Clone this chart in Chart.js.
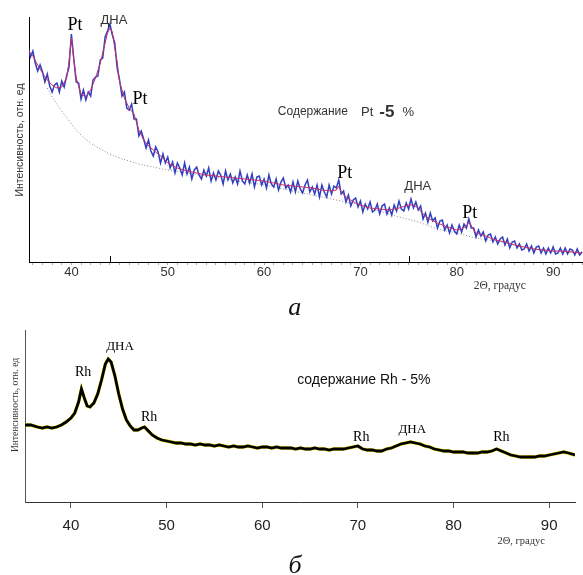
<!DOCTYPE html>
<html><head><meta charset="utf-8">
<script src="https://cdn.jsdelivr.net/npm/chart.js@4/dist/chart.umd.min.js"></script>
<style>
html,body{margin:0;padding:0;background:#fff;width:583px;height:575px;overflow:hidden}
canvas{position:absolute;left:0}
#ca{top:0}
#cb{top:320px}
</style></head><body>
<canvas id="ca" width="583" height="320"></canvas>
<canvas id="cb" width="583" height="255"></canvas>
<script>
// ---------- DATA ----------
const xTickLabels = [40, 50, 60, 70, 80, 90];

// Panel a: Pt - 5 %  (raw scan, blue)
const ptTheta = [35.5,35.75,
36,36.25,36.5,36.75, 37,37.25,37.5,37.75, 38,38.25,38.5,38.75, 39,39.25,39.5,39.75,
40,40.25,40.5,40.75, 41,41.25,41.5,41.75, 42,42.25,42.5,42.75, 43,43.25,43.5,43.75,
44,44.25,44.5,44.75, 45,45.25,45.5,45.75, 46,46.25,46.5,46.75, 47,47.25,47.5,47.75,
48,48.25,48.5,48.75, 49,49.25,49.5,49.75, 50,50.25,50.5,50.75, 51,51.25,51.5,51.75,
52,52.25,52.5,52.75, 53,53.25,53.5,53.75, 54,54.25,54.5,54.75, 55,55.25,55.5,55.75,
56,56.25,56.5,56.75, 57,57.25,57.5,57.75, 58,58.25,58.5,58.75, 59,59.25,59.5,59.75,
60,60.25,60.5,60.75, 61,61.25,61.5,61.75, 62,62.25,62.5,62.75, 63,63.25,63.5,63.75,
64,64.25,64.5,64.75, 65,65.25,65.5,65.75, 66,66.25,66.5,66.75, 67,67.25,67.5,67.75,
68,68.25,68.5,68.75, 69,69.25,69.5,69.75, 70,70.25,70.5,70.75, 71,71.25,71.5,71.75,
72,72.25,72.5,72.75, 73,73.25,73.5,73.75, 74,74.25,74.5,74.75, 75,75.25,75.5,75.75,
76,76.25,76.5,76.75, 77,77.25,77.5,77.75, 78,78.25,78.5,78.75, 79,79.25,79.5,79.75,
80,80.25,80.5,80.75, 81,81.25,81.5,81.75, 82,82.25,82.5,82.75, 83,83.25,83.5,83.75,
84,84.25,84.5,84.75, 85,85.25,85.5,85.75, 86,86.25,86.5,86.75, 87,87.25,87.5,87.75,
88,88.25,88.5,88.75, 89,89.25,89.5,89.75, 90,90.25,90.5,90.75, 91,91.25,91.5,91.75,
92,92.25,92.5,92.75, 93];
const ptCounts = [215,205,
211,199,191,197, 190,180,188,176, 170,177,179,170, 181,175,186,195,
228,203,180,179, 163,172,162,170, 166,182,185,186, 202,204,225,231,
238,227,219,194, 182,166,170,154, 152,158,143,143, 126,131,123,114,
122,111,106,115, 110,99,108,99, 105,94,100,89, 99,94,87,99,
88,95,83,92, 95,87,83,92, 86,94,81,89, 82,91,87,78,
91,82,88,79, 85,78,91,81, 78,87,79,88, 75,85,86,77,
83,74,87,78, 75,83,72,80, 84,74,77,70, 80,70,81,73,
69,77,82,70, 75,68,77,65, 77,70,65,77, 68,76,74,82,
68,71,60,67, 56,62,64,55, 61,50,58,53, 60,50,52,58,
48,56,58,48, 54,47,57,51, 61,53,51,59, 53,63,54,60,
52,56,43,49, 40,49,41,44, 34,41,42,32, 37,29,37,31,
28,37,30,38, 34,43,34,34, 25,32,26,30, 21,27,28,20,
25,18,23,25, 17,23,14,20, 21,14,18,12, 13,18,11,16,
9,15,16,9, 14,8,14,9, 15,8,9,14, 8,14,8,13,
12,7,13,7, 10];

// Panel a: fitted profile (red)
const ptFitTheta = [35.5,36,36.5,37,37.5,38,38.5,39,39.5,39.75,40,40.25,40.5,41,41.5,42,42.5,43,43.5,43.75,
44,44.25,44.5,44.75,45,45.5,46,46.5,47,47.5,48,48.5,49,49.5,50,51,52,53,54,55,56,57,58,59,60,61,62,63,64,65,
66,67,67.5,67.75,68,68.5,69,69.5,70,71,72,73,74,75,75.5,76,76.5,77,78,79,80,80.5,81,81.3,81.75,82,83,84,85,86,
87,88,89,90,91,92,93];
const ptFit = [212,206,197,189,182,177,174,175,184,200,224,202,184,168,165,172,184,199,219,229,
234,230,214,200,180,164,154,148,132,122,116,112,108,104,99,94,91,89,87,86,85,84,83,82,81,79,77,76,75,74,
72,71,72,76,70,65,62,59,57,54,53,52,54,57,57,54,48,44,39,35,32,33,36,40,32,29,26,22,20,17,
15,13,12,11,11,10,9];

// Panel a: background (dotted)
const ptBgTheta = [37.5,38,39,40,41,42,43,44,45,46,47,48,49,50,52,54,56,58,60,62,64,66,68,70,72,74,76,78,80,82,84,86,88,90,93];
const ptBg = [174,165,151,138,127,119,113,108,104,101,98,96,94,92,89,86,83,80,77,73,69,65,61,57,51,45,40,33,29,24,21,17,13,11,9];

// Panel б: Rh - 5 %
const rhTheta = [35.2,35.8,36.5,37,37.5,38,38.5,39,39.5,40,40.4,40.8,41.1,41.4,41.7,42,42.4,42.8,43.2,43.6,
43.9,44.2,44.6,45,45.4,45.8,46.2,46.6,47,47.4,47.7,48,48.5,49,49.5,50,50.5,51,51.5,52,
52.5,53,53.5,54,54.5,55,55.5,56,56.5,57,57.5,58,58.5,59,59.5,60,60.5,61,61.5,62,
62.5,63,63.5,64,64.5,65,65.5,66,66.5,67,67.5,68,68.5,69,69.5,70,70.5,71,71.5,72,
72.5,73,73.5,74,74.5,75,75.5,76,76.5,77,77.5,78,78.5,79,79.5,80,80.5,81,81.5,82,
82.5,83,83.5,84,84.5,85,85.5,86,86.5,87,87.5,88,88.5,89,89.5,90,90.5,91,91.5,92,92.7];
const rhCounts = [77,77,75,74,75,74,75,77,80,84,89,100,113,104,96,95,99,108,122,138,
143,140,126,108,93,82,76,72,72,74,75,72,67,64,62,61,60,59,59,58,
58,57,58,57,57,56,57,56,55,56,55,55,56,55,54,55,55,54,55,54,
54,54,53,54,53,53,54,53,53,52,53,53,53,54,55,56,53,52,52,51,
51,53,54,56,58,59,60,59,58,56,55,53,52,51,51,50,50,50,49,49,
49,50,50,51,53,51,49,47,46,45,45,45,45,46,46,47,48,49,50,49,47];

// ---------- HELPERS ----------
const pts = (xs, ys) => xs.map((x, i) => ({x, y: ys[i]}));
const SERIF = '"Liberation Serif", "Times New Roman", serif';
const SANS = '"Liberation Sans", Arial, sans-serif';

const textPlugin = {
  id: 'txt',
  afterDraw(chart, args, opts) {
    const ctx = chart.ctx, sx = chart.scales.x, sy = chart.scales.y, ca = chart.chartArea;
    ctx.save();
    (opts.items || []).forEach(it => {
      let px = sx.getPixelForValue(it.x), py = sy.getPixelForValue(it.y);
      ctx.textBaseline = 'middle';
      if (it.parts) {
        ctx.textAlign = 'left';
        it.parts.forEach(p => {
          ctx.font = p.font; ctx.fillStyle = p.color || '#000';
          ctx.fillText(p.t, px, py + (p.dy || 0));
          px += ctx.measureText(p.t).width + (p.gap || 0);
        });
      } else {
        ctx.textAlign = it.align || 'center';
        ctx.font = it.font; ctx.fillStyle = it.color || '#000';
        ctx.fillText(it.t, px, py);
      }
    });
    if (opts.yTitle) {
      const t = opts.yTitle;
      ctx.translate(ca.left + t.dx, sy.getPixelForValue(t.y));
      ctx.rotate(-Math.PI / 2);
      ctx.textAlign = 'center'; ctx.textBaseline = 'middle';
      ctx.font = t.font; ctx.fillStyle = t.color;
      ctx.fillText(t.t, 0, 0);
    }
    ctx.restore();
    if (opts.upTicks) {
      ctx.save();
      ctx.strokeStyle = '#000'; ctx.lineWidth = 1;
      opts.upTicks.forEach(v => {
        const px = Math.round(sx.getPixelForValue(v)) + 0.5;
        ctx.beginPath(); ctx.moveTo(px, ca.bottom); ctx.lineTo(px, ca.bottom - 6); ctx.stroke();
      });
      ctx.restore();
    }
  }
};

const baseOpts = () => ({
  responsive: false, animation: false, devicePixelRatio: 1, events: [],
  plugins: { legend: { display: false }, tooltip: { enabled: false } },
  elements: { point: { radius: 0 }, line: { tension: 0 } }
});

// ---------- PANEL a ----------
const optA = baseOpts();
optA.layout = { padding: { left: 29, top: 17, right: 0, bottom: 0 } };
optA.scales = {
  x: {
    type: 'linear', min: 35.6, max: 93.1,
    afterBuildTicks: s => {
      const t = [];
      for (let v = Math.ceil(s.min); v <= s.max; v++) t.push({ value: v });
      s.ticks = t;
    },
    afterFit: s => { s.height = 58; },
    ticks: { autoSkip: false, maxRotation: 0, padding: 0,
      callback: v => xTickLabels.includes(v) ? String(v) : '',
      font: { family: SANS, size: 13 }, color: '#333' },
    grid: { drawOnChartArea: false, drawTicks: true, tickLength: 3, color: '#aaa' },
    border: { display: true, color: '#000', width: 1 }
  },
  y: {
    min: 0, max: 245,
    afterFit: s => { s.width = 0; },
    ticks: { display: false },
    grid: { display: false },
    border: { display: true, color: '#000', width: 1 }
  }
};
optA.plugins.txt = {
  items: [
    { t: 'Pt', x: 40.37, y: 237, font: '18px ' + SERIF },
    { t: 'ДНА', x: 44.42, y: 242, font: '13px ' + SANS, color: '#333' },
    { t: 'Pt', x: 47.11, y: 163, font: '18px ' + SERIF },
    { t: 'Pt', x: 68.38, y: 89, font: '18px ' + SERIF },
    { t: 'ДНА', x: 75.95, y: 76, font: '13px ' + SANS, color: '#333' },
    { t: 'Pt', x: 81.35, y: 49, font: '18px ' + SERIF },
    { x: 61.43, y: 150, parts: [
      { t: 'Содержание', font: '12px ' + SANS, color: '#333', gap: 13 },
      { t: 'Pt', font: '13px ' + SANS, color: '#333', gap: 6 },
      { t: '-5', font: 'bold 17px ' + SANS, color: '#333', gap: 8 },
      { t: '%', font: '13px ' + SANS, color: '#333' }
    ]},
    { t: '2Θ, градус', x: 84.46, y: -24, font: '11.5px ' + SERIF, color: '#333' },
    { t: 'а', x: 63.19, y: -46, font: 'italic 26px ' + SERIF, color: '#111' }
  ],
  yTitle: { t: 'Интенсивность, отн. ед', dx: -9, y: 122, font: '10.5px ' + SANS, color: '#333' },
  upTicks: [44, 75]
};
new Chart(document.getElementById('ca'), {
  type: 'line',
  data: { datasets: [
    { data: pts(ptFitTheta, ptFit), borderColor: '#c8306a', borderWidth: 1 },
    { data: pts(ptTheta, ptCounts), borderColor: '#2f3fbf', borderWidth: 1.5 },
    { data: pts(ptBgTheta, ptBg), borderColor: '#888', borderWidth: 1, borderDash: [1, 2], tension: 0.4 }
  ]},
  options: optA,
  plugins: [textPlugin]
});

// ---------- PANEL б ----------
const optB = baseOpts();
optB.layout = { padding: { left: 25, top: 10, right: 8, bottom: 0 } };
optB.scales = {
  x: {
    type: 'linear', min: 35.2, max: 92.7,
    afterBuildTicks: s => { s.ticks = xTickLabels.map(v => ({ value: v })); },
    afterFit: s => { s.height = 73; },
    ticks: { autoSkip: false, maxRotation: 0, padding: 9,
      font: { family: SANS, size: 15 }, color: '#222' },
    grid: { drawOnChartArea: false, drawTicks: true, tickLength: 6, color: '#555' },
    border: { display: true, color: '#333', width: 1 }
  },
  y: {
    min: 0, max: 172,
    afterFit: s => { s.width = 0; },
    ticks: { display: false },
    grid: { display: false },
    border: { display: true, color: '#555', width: 1 }
  }
};
optB.plugins.txt = {
  items: [
    { t: 'Rh', x: 41.27, y: 130, font: '14px ' + SERIF },
    { t: 'ДНА', x: 45.14, y: 155, font: '13px ' + SERIF },
    { t: 'Rh', x: 48.17, y: 85, font: '14px ' + SERIF },
    { t: 'Rh', x: 70.35, y: 65, font: '14px ' + SERIF },
    { t: 'ДНА', x: 75.68, y: 72, font: '13px ' + SERIF },
    { t: 'Rh', x: 85.0, y: 65, font: '14px ' + SERIF },
    { t: 'содержание Rh - 5%', x: 63.65, y: 122, font: '14px ' + SANS, align: 'left', color: '#111' },
    { t: '2Θ, градус', x: 87.08, y: -39, font: '10.5px ' + SERIF, color: '#333' },
    { t: 'б', x: 63.44, y: -64, font: 'italic 26px ' + SERIF, color: '#111' }
  ],
  yTitle: { t: 'Интенсивность, отн. ед', dx: -10, y: 97, font: '9.5px ' + SERIF, color: '#333' }
};
new Chart(document.getElementById('cb'), {
  type: 'line',
  data: { datasets: [
    { data: pts(rhTheta, rhCounts), borderColor: '#000', borderWidth: 2.8 },
    { data: pts(rhTheta, rhCounts), borderColor: '#e6dc00', borderWidth: 3.4 }
  ]},
  options: optB,
  plugins: [textPlugin]
});
</script>
</body></html>
